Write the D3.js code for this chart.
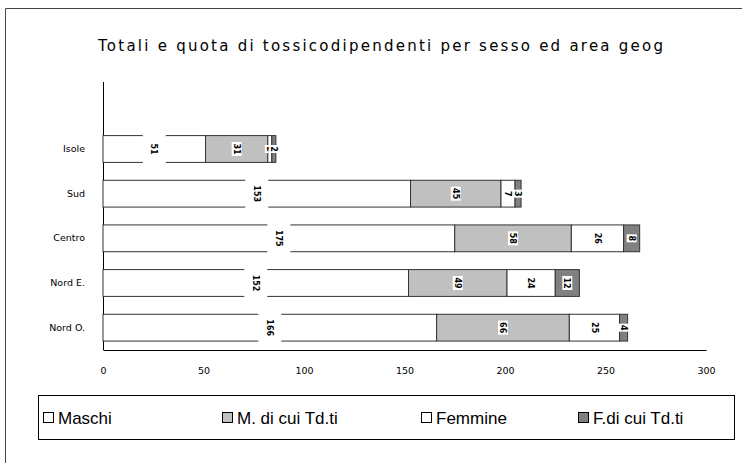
<!DOCTYPE html>
<html><head><meta charset="utf-8">
<script src="https://cdn.jsdelivr.net/npm/d3@7"></script>
<style>body{margin:0;background:#fff}svg{display:block}</style>
</head><body>
<svg id="chart" width="742" height="463"></svg>
<script>
// Areas, listed bottom to top
const categories = ["Nord O.", "Nord E.", "Centro", "Sud", "Isole"];
const maschi     = [166, 152, 175, 153, 51];
const maschiTd   = [66, 49, 58, 45, 31];
const femmine    = [25, 24, 26, 7, 2];
const femmineTd  = [4, 12, 8, 3, 2];
const seriesNames = ["Maschi", "M. di cui Td.ti", "Femmine", "F.di cui Td.ti"];
const seriesFills = ["#ffffff", "#c0c0c0", "#ffffff", "#808080"];
const xTicks = [0, 50, 100, 150, 200, 250, 300];
const title = "Totali e quota di tossicodipendenti per sesso ed area geog";

const svg = d3.select("#chart");

// frame lines (top and left)
svg.append("line").attr("x1", 5.5).attr("x2", 742).attr("y1", 8.5).attr("y2", 8.5)
  .attr("stroke", "#444");
svg.append("line").attr("x1", 5.5).attr("x2", 5.5).attr("y1", 8.5).attr("y2", 463)
  .attr("stroke", "#444");

// title
svg.append("text").attr("x", 98).attr("y", 51)
  .attr("font-family", "DejaVu Sans, Verdana, sans-serif").attr("font-size", 15)
  .attr("textLength", 565).attr("lengthAdjust", "spacing")
  .attr("fill", "#000").text(title);

const rows = categories.map((c, i) => ({
  cat: c,
  [seriesNames[0]]: maschi[i],
  [seriesNames[1]]: maschiTd[i],
  [seriesNames[2]]: femmine[i],
  [seriesNames[3]]: femmineTd[i]
}));
const stacked = d3.stack().keys(seriesNames)(rows);

const x = d3.scaleLinear().domain([0, 300]).range([103, 706]);
const plotBottom = 350, plotTop = 82;
const step = (plotBottom - plotTop) / 6;
const y = d3.scaleBand().domain(categories)
  .range([plotBottom, plotBottom - step * 5])
  .paddingInner(0.4).paddingOuter(0.2);

// axes
const xAxis = svg.append("g").attr("transform", `translate(0,${plotBottom})`)
  .call(d3.axisBottom(x).tickValues(xTicks).tickSize(0).tickPadding(17));
xAxis.select(".domain").attr("stroke", "#000");
xAxis.selectAll("text").attr("font-family", "DejaVu Sans, Verdana, sans-serif")
  .attr("font-size", 9.5).attr("fill", "#000");

const yAxis = svg.append("g").attr("transform", "translate(103,0)")
  .call(d3.axisLeft(y).tickSize(0).tickPadding(18));
yAxis.select(".domain").remove();
yAxis.selectAll("text").attr("font-family", "DejaVu Sans, Verdana, sans-serif")
  .attr("font-size", 9.5).attr("fill", "#000");
svg.append("line").attr("x1", 103.5).attr("x2", 103.5)
  .attr("y1", plotTop).attr("y2", plotBottom).attr("stroke", "#000");

// bars
const layers = svg.append("g").selectAll("g").data(stacked).join("g")
  .attr("fill", (d, i) => seriesFills[i]);
layers.selectAll("rect").data(d => d).join("rect")
  .attr("x", d => x(d[0]))
  .attr("y", d => y(d.data.cat))
  .attr("width", d => x(d[1]) - x(d[0]))
  .attr("height", y.bandwidth())
  .attr("stroke", "#333").attr("stroke-width", 1);

// value labels, rotated, on white boxes
const labels = svg.append("g");
stacked.forEach((layer, si) => {
  layer.forEach(d => {
    const v = d[1] - d[0];
    const cx = x((d[0] + d[1]) / 2);
    const cy = y(d.data.cat) + y.bandwidth() / 2;
    const txt = String(v);
    const len = txt.length * 6 + 2;
    const g = labels.append("g").attr("transform", `translate(${cx},${cy})`);
    if (si === 0) {
      g.append("rect").attr("x", -11.5).attr("y", -15.5).attr("width", 23).attr("height", 31)
        .attr("fill", "#fff");
    } else {
      g.append("rect").attr("x", -5).attr("y", -len / 2).attr("width", 10).attr("height", len)
        .attr("fill", "#fff");
    }
    g.append("text").attr("transform", "rotate(90)")
      .attr("text-anchor", "middle").attr("dy", "0.35em")
      .attr("font-family", "DejaVu Sans, Verdana, sans-serif")
      .attr("font-size", 8).attr("font-weight", "bold").attr("fill", "#000")
      .text(txt);
  });
});

// legend
const legend = svg.append("g");
legend.append("rect").attr("x", 38.5).attr("y", 395.5).attr("width", 696).attr("height", 44)
  .attr("fill", "#fff").attr("stroke", "#000");
const legendX = [43, 222, 421, 578];
seriesNames.forEach((name, i) => {
  legend.append("rect").attr("x", legendX[i] + 0.5).attr("y", 412.5).attr("width", 10).attr("height", 10)
    .attr("fill", seriesFills[i]).attr("stroke", "#000");
  legend.append("text").attr("x", legendX[i] + 15).attr("y", 424)
    .attr("font-family", "Liberation Sans, Arial, sans-serif").attr("font-size", 17)
    .attr("fill", "#000").text(name);
});
</script>
</body></html>
